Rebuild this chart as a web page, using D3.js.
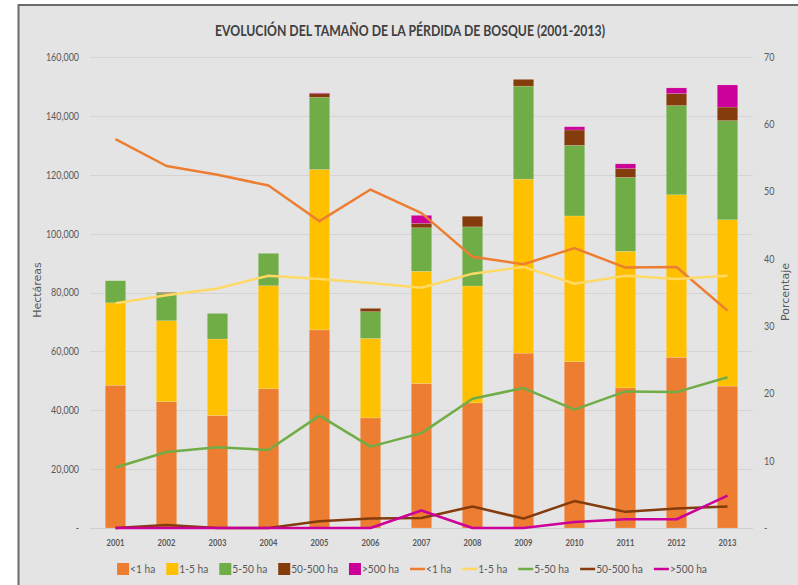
<!DOCTYPE html>
<html><head><meta charset="utf-8">
<script src="https://cdnjs.cloudflare.com/ajax/libs/d3/7.8.5/d3.min.js"></script>
<style>
html,body{margin:0;padding:0;background:#fff;}
svg{display:block;}
text{font-family:Lato,"DejaVu Sans Condensed",sans-serif;}
</style></head><body>
<svg id="c" width="798" height="585"></svg>
<script>
const years = ["2001","2002","2003","2004","2005","2006","2007","2008","2009","2010","2011","2012","2013"];
const seriesNames = ["<1 ha","1-5 ha","5-50 ha","50-500 ha",">500 ha"];
// hectares by size class
const haLt1   = [48500,42900,38200,47300,67300,37400,49100,42500,59400,56500,47600,58000,48200];
const ha1to5  = [28000,27500,26000,35000,54500,27000,38100,39700,59100,49500,46400,55200,56500];
const ha5to50 = [7500,9300,8700,11000,24500,9100,14800,20100,31600,24000,25100,30300,33700];
const ha50to500 = [0,300,0,0,1300,1100,1500,3600,2300,5200,3000,4100,4600];
const haGt500 = [0,0,0,0,200,0,2700,0,0,1100,1600,1900,7500];
// percentages
const pctLt1   = [57.8,53.8,52.5,50.9,45.6,50.3,46.8,40.3,39.2,41.6,38.7,38.8,32.3];
const pct1to5  = [33.4,34.6,35.6,37.5,37.0,36.4,35.7,37.8,38.8,36.3,37.5,37.0,37.5];
const pct5to50 = [9.0,11.3,12.0,11.6,16.7,12.1,14.1,19.2,20.8,17.6,20.3,20.2,22.4];
const pct50to500 = [0,0.45,0,0,1.0,1.4,1.5,3.2,1.4,4.0,2.4,2.9,3.2];
const pctGt500 = [0,0,0,0,0,0,2.6,0,0,0.9,1.3,1.3,4.8];
const leftTicks = [0,20000,40000,60000,80000,100000,120000,140000,160000];
const rightTicks = [0,10,20,30,40,50,60,70];

const barColors = ["#ED7D31","#FFC000","#70AD47","#843C0C","#CC0099"];
const lineColors = ["#ED7D31","#FFD966","#70AD47","#843C0C","#CC0099"];

const haSeries = [haLt1,ha1to5,ha5to50,ha50to500,haGt500];
const pctSeries = [pctLt1,pct1to5,pct5to50,pct50to500,pctGt500];

const svg = d3.select("#c");
// narrow text helper (emulates a condensed face)
function narrow(sel, k){ sel.each(function(){ const w=this.getComputedTextLength(); d3.select(this).attr("textLength",w*k).attr("lengthAdjust","spacingAndGlyphs"); }); }

// frame
svg.append("rect").attr("x",19).attr("y",5).attr("width",779).attr("height",580).attr("fill","#e4e4e4");
svg.append("line").attr("x1",18.5).attr("x2",18.5).attr("y1",4).attr("y2",585).attr("stroke","#6b6b6b").attr("stroke-width",2);
svg.append("line").attr("x1",18).attr("x2",798).attr("y1",5).attr("y2",5).attr("stroke","#6b6b6b").attr("stroke-width",2);

const L=90,R=753,T=57,B=528;
const x = d3.scaleBand().domain(years).range([L,R]).paddingInner(0.6).paddingOuter(0.3);
const y = d3.scaleLinear().domain([0,160000]).range([B,T]);
const y2 = d3.scaleLinear().domain([0,70]).range([B,T]);

// grid
svg.append("g").selectAll("line").data(leftTicks).join("line")
  .attr("x1",L).attr("x2",R).attr("y1",d=>Math.round(y(d))+0.5).attr("y2",d=>Math.round(y(d))+0.5)
  .attr("stroke","#d4d4d4").attr("stroke-width",1);

// title
svg.append("text").attr("x",410).attr("y",36).attr("text-anchor","middle")
  .attr("font-size",15).attr("font-weight","bold").attr("fill","#404040")
  .attr("textLength",390).attr("lengthAdjust","spacingAndGlyphs")
  .text("EVOLUCIÓN DEL TAMAÑO DE LA PÉRDIDA DE BOSQUE (2001-2013)");

// left axis
const fmt = d => d===0 ? "-" : d3.format(",")(d);
const ga = svg.append("g").attr("transform",`translate(${L-11},0)`)
  .call(d3.axisLeft(y).tickValues(leftTicks).tickFormat(fmt).tickSize(0).tickPadding(0));
ga.select(".domain").remove();
ga.selectAll("text").attr("font-size",10.5).attr("fill","#595959").attr("font-family","Lato,sans-serif").call(narrow,0.85);

const gr = svg.append("g").attr("transform",`translate(${R+11},0)`)
  .call(d3.axisRight(y2).tickValues(rightTicks).tickFormat(d=>d===0?"-":d).tickSize(0).tickPadding(0));
gr.select(".domain").remove();
gr.selectAll("text").attr("font-size",10.5).attr("fill","#595959").attr("font-family","Lato,sans-serif").call(narrow,0.85);

// axis titles
svg.append("text").attr("transform","translate(41,290) rotate(-90)").attr("text-anchor","middle")
  .attr("font-size",11).attr("fill","#595959").style("font-family","'DejaVu Sans','Open Sans',sans-serif").text("Hectáreas");
svg.append("text").attr("transform","translate(789,292) rotate(-90)").attr("text-anchor","middle")
  .attr("font-size",11).attr("fill","#595959").style("font-family","'DejaVu Sans','Open Sans',sans-serif").text("Porcentaje");

// bars
const table = years.map((yr,i)=>{const o={year:yr}; seriesNames.forEach((s,k)=>o[s]=haSeries[k][i]); return o;});
const stack = d3.stack().keys(seriesNames)(table);
svg.append("g").selectAll("g").data(stack).join("g").attr("fill",(d,i)=>barColors[i])
  .selectAll("rect").data(d=>d).join("rect")
  .attr("x",d=>x(d.data.year)).attr("width",x.bandwidth())
  .attr("y",d=>y(d[1])).attr("height",d=>Math.max(0,y(d[0])-y(d[1])))
  .attr("stroke","rgba(255,255,255,0.25)").attr("stroke-width",0.6);

// baseline
svg.append("line").attr("x1",L).attr("x2",R).attr("y1",B+0.5).attr("y2",B+0.5).attr("stroke","#cfcfcf");

// lines
const line = d3.line().x((d,i)=>x(years[i])+x.bandwidth()/2).y(d=>y2(d));
svg.append("g").selectAll("path").data(pctSeries).join("path")
  .attr("d",line).attr("fill","none").attr("stroke",(d,i)=>lineColors[i]).attr("stroke-width",2.5)
  .attr("stroke-linejoin","round");

// x labels
svg.append("g").selectAll("text").data(years).join("text")
  .attr("x",d=>x(d)+x.bandwidth()/2).attr("y",546).attr("text-anchor","middle")
  .attr("font-size",9).attr("font-weight","bold").attr("fill","#595959").text(d=>d).call(narrow,0.85);

// legend
const lg = svg.append("g");
let cx = 0;
const items = [];
seriesNames.forEach((s,i)=>items.push({t:s,type:"box",c:barColors[i]}));
seriesNames.forEach((s,i)=>items.push({t:s,type:"line",c:lineColors[i]}));
const ly = 569;
const gap = 11;
items.forEach(it=>{
  const g = lg.append("g").attr("transform",`translate(${cx},0)`);
  let w;
  if(it.type==="box"){ g.append("rect").attr("x",0).attr("y",ly-6).attr("width",12).attr("height",12).attr("fill",it.c); w=13; }
  else { g.append("line").attr("x1",0).attr("x2",15).attr("y1",ly).attr("y2",ly).attr("stroke",it.c).attr("stroke-width",2.5); w=16; }
  const t = g.append("text").attr("x",w).attr("y",ly+4).attr("font-size",12).attr("fill","#595959").text(it.t);
  t.call(narrow,0.85);
  cx += w + +t.attr("textLength") + gap;
});
const total = cx - gap;
lg.attr("transform",`translate(${412-total/2},0)`);
</script>
</body></html>
